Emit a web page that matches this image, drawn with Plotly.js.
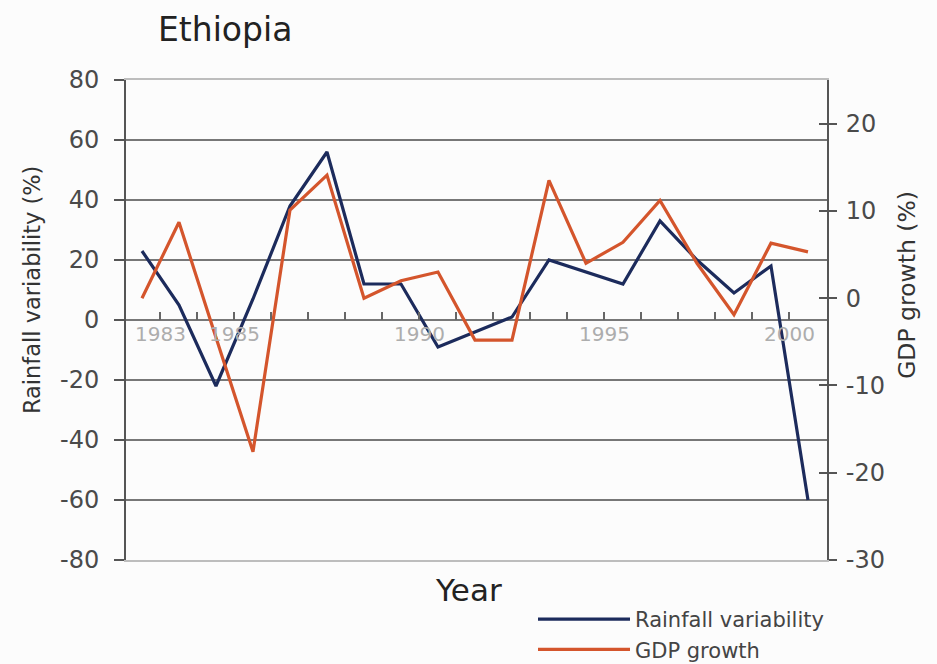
<!DOCTYPE html>
<html>
<head>
<meta charset="utf-8">
<script src="https://cdn.plot.ly/plotly-3.0.1.min.js"></script>
<style>html,body{margin:0;padding:0;background:#fcfcfc;}#chart{width:937px;height:664px;}</style>
</head>
<body>
<div id="chart"></div>
<script>
// Data
const years = [1982,1983,1984,1985,1986,1987,1988,1989,1990,1991,1992,1993,1994,1995,1996,1997,1998,1999,2000];
const rainfall = [23,5,-22,7,38,56,12,12,-9,-4,1,20,16,12,33,20,9,18,-60];
const gdpGrowth = [0,8.7,-4.5,-17.6,10.1,14.1,0,2,3,-4.8,-4.8,13.5,4,6.4,11.2,4,-1.9,6.3,5.3];
const xLabelYears = [1983,1985,1990,1995,2000];
const leftTicks = [-80,-60,-40,-20,0,20,40,60,80];
const rightTicks = [-30,-20,-10,0,10,20];

// x ticks sit on year boundaries, labelled with the following year
const xTickVals = [], xTickText = [];
for (let i = 0; i < years.length - 1; i++) {
  xTickVals.push(years[i] + 0.5);
  const lab = years[i + 1];
  xTickText.push(xLabelYears.indexOf(lab) >= 0 ? String(lab) : '');
}
const leftTickText = leftTicks.map(String);
const rightTickText = rightTicks.map(String);

const FONT = 'DejaVu Sans, Verdana, sans-serif';
const XRANGE = [1981.568, 2000.514];

const traces = [
  {x: years, y: rainfall, type: 'scatter', mode: 'lines', name: 'Rainfall variability',
   yaxis: 'y', line: {color: '#1c2b5c', width: 3.2}},
  {x: years, y: gdpGrowth, type: 'scatter', mode: 'lines', name: 'GDP growth',
   yaxis: 'y2', line: {color: '#d4552c', width: 3.2}},
  // empty helper trace so the frame axis (x2) and the inner right ticks (y3) are drawn
  {x: [], y: [], type: 'scatter', mode: 'lines', xaxis: 'x2', yaxis: 'y3',
   showlegend: false, hoverinfo: 'skip'}
];

const layout = {
  width: 937, height: 664,
  paper_bgcolor: '#fcfcfc', plot_bgcolor: '#fcfcfc',
  margin: {l: 126, r: 110, t: 80, b: 104},
  font: {family: FONT, color: '#444'},
  title: {text: 'Ethiopia', x: 158/937, xanchor: 'left', xref: 'container',
          y: 1 - 29/664, yanchor: 'middle', yref: 'container',
          font: {family: FONT, size: 33, color: '#222'}},
  showlegend: true,
  legend: {x: 0.5806, xanchor: 'left', xref: 'paper',
           y: 1 - 599/664, yanchor: 'top', yref: 'container',
           bgcolor: 'rgba(0,0,0,0)', itemwidth: 92, tracegroupgap: 0,
           font: {family: FONT, size: 21, color: '#444'}},
  xaxis: {
    range: XRANGE, anchor: 'free', position: 0.5,
    tickmode: 'array', tickvals: xTickVals, ticktext: xTickText, tickangle: 0,
    ticks: 'inside', ticklen: 8, tickwidth: 2, tickcolor: '#666',
    tickfont: {family: FONT, size: 20, color: '#adadad'},
    showgrid: false, zeroline: false, showline: false
  },
  xaxis2: {
    range: XRANGE, overlaying: 'x', anchor: 'y', side: 'bottom',
    showline: true, mirror: true, linecolor: '#bdbdbd', linewidth: 2,
    ticks: '', showticklabels: false, showgrid: false, zeroline: false
  },
  yaxis: {
    range: [-80, 80], tickmode: 'array', tickvals: leftTicks, ticktext: leftTickText,
    ticks: 'outside', ticklen: 10, tickwidth: 2, tickcolor: '#555',
    ticklabelstandoff: 10,
    tickfont: {family: FONT, size: 24, color: '#4a4a4a'},
    showgrid: true, gridcolor: '#777', gridwidth: 2,
    zeroline: false, showline: true, linecolor: '#555', linewidth: 2
  },
  yaxis2: {
    range: [-30, 25], overlaying: 'y', side: 'right', tickmode: 'array', tickvals: rightTicks, ticktext: rightTickText,
    ticks: 'outside', ticklen: 8, tickwidth: 2, tickcolor: '#555',
    ticklabelstandoff: 4,
    tickfont: {family: FONT, size: 24, color: '#4a4a4a'},
    showgrid: false, zeroline: false, showline: true, linecolor: '#555', linewidth: 2
  },
  yaxis3: {
    range: [-30, 25], overlaying: 'y', side: 'right', anchor: 'x2', tickmode: 'array', tickvals: rightTicks,
    ticks: 'inside', ticklen: 8, tickwidth: 2, tickcolor: '#555',
    showticklabels: false, showgrid: false, zeroline: false, showline: false
  },
  annotations: [
    {text: 'Year', xref: 'paper', yref: 'paper', x: 0.488, y: -0.0625, xanchor: 'center', yanchor: 'middle',
     showarrow: false, font: {family: FONT, size: 31, color: '#222'}},
    {text: 'Rainfall variability (%)', xref: 'paper', yref: 'paper', x: -0.134, y: 0.5625,
     xanchor: 'center', yanchor: 'middle', textangle: -90, showarrow: false,
     font: {family: FONT, size: 22.5, color: '#333'}},
    {text: 'GDP growth (%)', xref: 'paper', yref: 'paper', x: 1.114, y: 0.573,
     xanchor: 'center', yanchor: 'middle', textangle: -90, showarrow: false,
     font: {family: FONT, size: 23.5, color: '#333'}}
  ]
};

Plotly.newPlot('chart', traces, layout, {displayModeBar: false, staticPlot: true});
</script>
</body>
</html>
